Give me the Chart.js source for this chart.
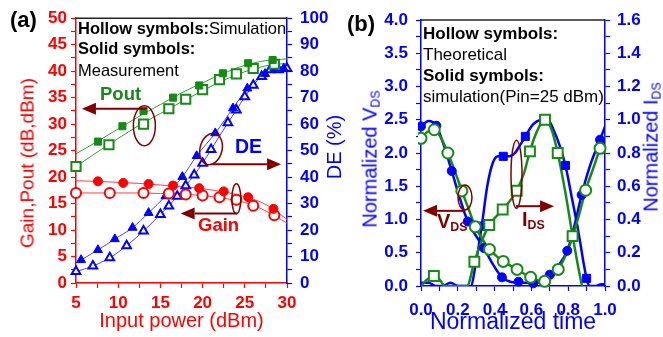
<!DOCTYPE html>
<html>
<head>
<meta charset="utf-8">
<script src="https://cdn.jsdelivr.net/npm/chart.js@4.4.0/dist/chart.umd.min.js"></script>
<style>
body { margin:0; background:#fff; width:663px; height:337px; overflow:hidden; position:relative;
  font-family:"Liberation Sans", Arial, sans-serif; }
canvas { position:absolute; top:0; }
.t { position:absolute; white-space:nowrap; line-height:1; }
.r { transform:translate(-50%,-50%) rotate(-90deg); }
.t sub { font-size:0.62em; vertical-align:-0.28em; line-height:1; }
</style>
</head>
<body>
<canvas id="ca" width="350" height="337" style="left:0"></canvas>
<canvas id="cb" width="328" height="337" style="left:335px"></canvas>

<div class="t" style="left:10px;top:9px;font-size:22px;font-weight:bold">(a)</div>
<div class="t" style="left:347px;top:13px;font-size:22px;font-weight:bold">(b)</div>

<div class="t" style="left:78px;top:20px;font-size:16.5px"><b>Hollow symbols:</b>Simulation</div>
<div class="t" style="left:78px;top:40px;font-size:16.5px"><b>Solid symbols:</b></div>
<div class="t" style="left:78px;top:61.5px;font-size:16.5px">Measurement</div>

<div class="t" style="left:423px;top:25px;font-size:17px"><b>Hollow symbols:</b></div>
<div class="t" style="left:423px;top:45.5px;font-size:17px">Theoretical</div>
<div class="t" style="left:423px;top:66.5px;font-size:17px"><b>Solid symbols:</b></div>
<div class="t" style="left:423px;top:88px;font-size:17px">simulation(Pin=25 dBm)</div>

<div class="t" style="left:100px;top:85px;font-size:18.5px;font-weight:bold;color:#168a16">Pout</div>
<div class="t" style="left:235px;top:137px;font-size:19.5px;font-weight:bold;color:#0000ff">DE</div>
<div class="t" style="left:198px;top:216px;font-size:18.5px;font-weight:bold;color:#ff0000">Gain</div>
<div class="t" style="left:437px;top:211px;font-size:20px;font-weight:bold;color:#800000">V<sub>DS</sub></div>
<div class="t" style="left:522px;top:209px;font-size:20px;font-weight:bold;color:#800000">I<sub>DS</sub></div>

<div class="t r" style="left:27px;top:163px;font-size:19px;color:#ff0000">Gain,Pout (dB,dBm)</div>
<div class="t r" style="left:334px;top:147px;font-size:20px;color:#0000ff">DE (%)</div>
<div class="t r" style="left:371px;top:159px;font-size:20px;color:#0000ff">Normalized V<sub>DS</sub></div>
<div class="t r" style="left:652px;top:147px;font-size:20px;color:#0000ff">Normalized I<sub>DS</sub></div>

<script>
// ---- panel (a): input power sweep ----
const pinPoutMeas = [7.6, 10.5, 13.0, 16.5, 19.6, 22.4, 25.4, 28.3];
const poutMeas    = [26.7, 29.6, 32.5, 35.0, 37.3, 39.6, 41.5, 42.1];
const pinPoutSim  = [5, 8.9, 13, 16, 18, 20, 22, 24, 26, 28.5];
const poutSim     = [22.0, 26.1, 30.0, 32.9, 34.7, 36.5, 38.4, 39.5, 40.5, 41.3];

const pinGainMeas = [7.6, 10.6, 13.6, 16.5, 19.6, 22.5, 25.4, 28.4];
const gainMeas    = [19.2, 18.9, 18.7, 18.4, 17.9, 17.3, 16.2, 14.0];
const pinGainSim  = [5, 9, 13, 16, 18, 20, 22, 24, 26, 28.5];
const gainSim     = [17.0, 17.0, 17.0, 16.9, 16.7, 16.5, 16.2, 15.7, 14.6, 12.8];

const pinDeMeas = [5.6, 7.6, 9.6, 11.7, 13.6, 15.6, 17.6, 19.3, 21.5, 23.6, 25.3, 27.4, 28.5, 29.6];
const deMeas    = [8.7, 12.5, 16.6, 20.9, 26.5, 32.8, 40.1, 48.0, 56.6, 66.0, 73.5, 79.0, 81.0, 81.0];
const pinDeSim  = [5, 7, 9, 11, 13, 15, 16, 17, 18, 19, 20, 21, 23, 24, 25, 26, 27, 28, 29, 30];
const deSim     = [4.3, 6.4, 9.5, 14.1, 19.6, 25.9, 29.1, 32.8, 36.7, 40.8, 45.2, 50.4, 60.5, 65.3, 70.3, 74.7, 78.0, 80.5, 80.5, 81.0];

// fitted curves
const pinFit      = [5, 7.5, 10, 12.5, 15, 17.5, 20, 22.5, 25, 27.5, 30];
const poutMeasFit = [24.4, 26.7, 29.1, 31.5, 33.7, 35.9, 37.8, 39.6, 41.1, 42.0, 42.3];
const poutSimFit  = [22.0, 24.7, 27.3, 29.8, 32.0, 34.2, 36.3, 38.3, 39.9, 41.0, 41.5];
const gainMeasFit = [19.3, 19.2, 19.0, 18.8, 18.5, 18.2, 17.8, 17.2, 16.3, 14.8, 12.0];
const gainSimFit  = [17.0, 17.0, 17.0, 17.0, 16.9, 16.8, 16.5, 16.0, 15.2, 13.6, 11.3];

// ---- panel (b): normalized waveforms ----
const tVdsSim = [0.0, 0.083, 0.167, 0.254, 0.342, 0.44, 0.53, 0.61, 0.70, 0.795, 0.873, 0.973];
const vdsSim  = [2.40, 2.41, 1.73, 0.97, 0.57, 0.13, 0.065, 0.04, 0.17, 0.53, 1.37, 2.20];
const tIdsSim = [0.33, 0.447, 0.567, 0.785, 0.90];
const idsSim  = [0.36, 0.78, 0.90, 0.725, 0.046];
const tVdsTh  = [0.0, 0.072, 0.146, 0.222, 0.295, 0.372, 0.447, 0.522, 0.596, 0.672, 0.746, 0.895, 0.973];
const vdsTh   = [2.22, 2.35, 2.0, 1.43, 0.89, 0.55, 0.37, 0.25, 0.13, 0.07, 0.25, 1.44, 2.07];
const tIdsTh  = [0.07, 0.29, 0.371, 0.444, 0.52, 0.592, 0.674, 0.743, 0.824];
const idsTh   = [0.06, 0.146, 0.367, 0.46, 0.573, 0.81, 1.0, 0.80, 0.30];

const tVdsSimLine = [0, 0.04, 0.083, 0.12, 0.167, 0.21, 0.254, 0.3, 0.342, 0.39, 0.44, 0.49, 0.53, 0.57, 0.61, 0.65, 0.70, 0.75, 0.795, 0.835, 0.873, 0.92, 0.973, 1.0];
const vdsSimLine  = [2.40, 2.48, 2.41, 2.15, 1.73, 1.33, 0.97, 0.75, 0.57, 0.33, 0.13, 0.06, 0.05, 0.05, 0.04, 0.07, 0.17, 0.32, 0.53, 0.92, 1.37, 1.82, 2.20, 2.40];
const tVdsThLine  = [0, 0.035, 0.072, 0.11, 0.146, 0.185, 0.222, 0.26, 0.295, 0.335, 0.372, 0.41, 0.447, 0.522, 0.596, 0.672, 0.71, 0.746, 0.785, 0.824, 0.86, 0.895, 0.935, 0.973, 1.0];
const vdsThLine   = [2.22, 2.32, 2.35, 2.22, 2.0, 1.72, 1.43, 1.15, 0.89, 0.70, 0.55, 0.45, 0.37, 0.25, 0.13, 0.07, 0.13, 0.25, 0.45, 0.74, 1.08, 1.44, 1.76, 2.07, 2.25];
const tIdsSimLine = [0, 0.04, 0.08, 0.12, 0.16, 0.2, 0.24, 0.27, 0.30, 0.33, 0.36, 0.39, 0.42, 0.447, 0.48, 0.51, 0.54, 0.567, 0.6, 0.63, 0.66, 0.69, 0.72, 0.755, 0.785, 0.82, 0.855, 0.885, 0.90, 0.915, 0.95, 0.98, 1.0];
const idsSimLine  = [0.02, 0.02, 0.0, 0.0, 0.02, 0.0, 0.0, 0.0, 0.15, 0.36, 0.60, 0.74, 0.78, 0.78, 0.78, 0.80, 0.85, 0.90, 0.96, 0.99, 1.0, 1.0, 0.94, 0.84, 0.725, 0.53, 0.33, 0.13, 0.046, 0.0, 0.0, 0.01, 0.01];
const tIdsThLine  = [0, 0.035, 0.07, 0.1, 0.13, 0.2, 0.25, 0.29, 0.33, 0.371, 0.444, 0.52, 0.56, 0.592, 0.63, 0.674, 0.71, 0.743, 0.785, 0.824, 0.85, 0.875];
const idsThLine   = [0.0, 0.04, 0.06, 0.04, 0.0, 0.0, 0.0, 0.146, 0.27, 0.367, 0.46, 0.573, 0.68, 0.81, 0.93, 1.0, 0.94, 0.80, 0.56, 0.30, 0.14, 0.0];

const FONT = "'Liberation Sans', Arial, sans-serif";
Chart.defaults.font.family = FONT;

const RED = '#ff0000', BLUE = '#0000ff', GREEN = '#168a16', DARKRED = '#800000';

function pts(xs, ys) { return xs.map((x, i) => ({x: x, y: ys[i]})); }

function markers(xs, ys, style, r, color, hollow, axis) {
  return {
    data: pts(xs, ys), showLine: false, yAxisID: axis || 'y', order: 1, clip: false,
    pointStyle: style, pointRadius: r, pointHoverRadius: r,
    pointBackgroundColor: hollow ? '#fff' : color, pointBorderColor: color,
    pointBorderWidth: hollow ? 2 : 1
  };
}
function curve(xs, ys, color, w, axis) {
  return {
    data: pts(xs, ys), yAxisID: axis || 'y', order: 5, pointRadius: 0,
    borderColor: color, borderWidth: w, cubicInterpolationMode: 'monotone', fill: false
  };
}

// frame top line + ellipses and arrows
const decor = {
  id: 'decor',
  afterDatasetsDraw(chart, args, opts) {
    const ctx = chart.ctx, a = chart.chartArea;
    const xs = chart.scales.x, ys = chart.scales.y;
    ctx.save();
    ctx.strokeStyle = '#222'; ctx.lineWidth = 1.5;
    ctx.beginPath(); ctx.moveTo(a.left, a.top); ctx.lineTo(a.right, a.top); ctx.stroke();
    ctx.strokeStyle = DARKRED; ctx.fillStyle = DARKRED;
    (opts.ellipses || []).forEach(e => {
      ctx.lineWidth = 1.5;
      ctx.beginPath();
      ctx.ellipse(xs.getPixelForValue(e.x), ys.getPixelForValue(e.y), e.rx, e.ry, e.rot || 0, 0, Math.PI * 2);
      ctx.stroke();
    });
    (opts.arrows || []).forEach(ar => {
      const x0 = xs.getPixelForValue(ar.x0), x1 = xs.getPixelForValue(ar.x1), y = ys.getPixelForValue(ar.y);
      const dir = x1 > x0 ? 1 : -1, head = 14;
      ctx.lineWidth = 2;
      ctx.beginPath(); ctx.moveTo(x0, y); ctx.lineTo(x1 - dir * head, y); ctx.stroke();
      ctx.beginPath(); ctx.moveTo(x1, y); ctx.lineTo(x1 - dir * head, y - 6); ctx.lineTo(x1 - dir * head, y + 6);
      ctx.closePath(); ctx.fill();
    });
    ctx.restore();
  }
};

function axis(color, opts) {
  return Object.assign({
    type: 'linear',
    border: { color: color, width: 1.5 },
    grid: { drawOnChartArea: false, color: color, tickLength: 5, tickWidth: 1.2 },
  }, opts);
}
function tickFont(color, pad, cb) {
  return { color: color, font: { size: 17, weight: 'bold' }, padding: pad, autoSkip: false,
           maxRotation: 0, maxTicksLimit: 100, callback: cb };
}

new Chart(document.getElementById('ca'), {
  type: 'line',
  data: { datasets: [
    markers(pinPoutMeas, poutMeas, 'rect', 5, GREEN, false),
    markers(pinPoutSim, poutSim, 'rect', 6.5, GREEN, true),
    markers(pinGainMeas, gainMeas, 'circle', 4.5, RED, false),
    markers(pinGainSim, gainSim, 'circle', 5, RED, true),
    markers(pinDeMeas, deMeas, 'triangle', 5.2, BLUE, false, 'y1'),
    markers(pinDeSim, deSim, 'triangle', 5, BLUE, true, 'y1'),
    curve(pinFit, poutMeasFit, '#2ea02e', 1),
    curve(pinFit, poutSimFit, '#2ea02e', 1),
    curve(pinFit, gainMeasFit, '#ff4040', 1),
    curve(pinFit, gainSimFit, '#ff4040', 1),
    curve(pinDeMeas, deMeas, '#4040ff', 1, 'y1'),
    curve(pinDeSim, deSim, '#4040ff', 1, 'y1')
  ]},
  options: {
    responsive: false, animation: false, events: [],
    layout: { padding: { top: 17, left: 0, right: 0, bottom: 0 } },
    plugins: {
      legend: { display: false }, tooltip: { enabled: false },
      decor: {
        ellipses: [ {x: 13.1, y: 29.7, rx: 11, ry: 20}, {x: 21.0, y: 25.3, rx: 11, ry: 16, rot: 0.25},
                    {x: 24.0, y: 15.9, rx: 4.5, ry: 15} ],
        arrows: [ {x0: 13.4, x1: 5.7, y: 32.9}, {x0: 21.2, x1: 29.3, y: 22.4}, {x0: 24.1, x1: 17.4, y: 13.1} ]
      }
    },
    scales: {
      x: axis(RED, { position: 'bottom', min: 5, max: 30,
        ticks: Object.assign(tickFont(RED, 5, v => v % 5 === 0 ? v : ''), { stepSize: 2.5 }),
        title: { display: true, text: 'Input power (dBm)', color: RED, font: { size: 20 }, padding: { top: 0, bottom: 4 } },
        afterFit(s) { s.height = 54; } }),
      y: axis(RED, { position: 'left', min: 0, max: 50,
        ticks: Object.assign(tickFont(RED, 4, v => v % 5 === 0 ? v : ''), { stepSize: 2.5 }),
        afterFit(s) { s.width = 76; } }),
      y1: axis(BLUE, { position: 'right', min: 0, max: 100,
        ticks: Object.assign(tickFont(BLUE, 8, v => v % 10 === 0 ? v : ''), { stepSize: 5 }),
        afterFit(s) { s.width = 63; } })
    }
  },
  plugins: [decor]
});

new Chart(document.getElementById('cb'), {
  type: 'line',
  data: { datasets: [
    markers(tVdsTh, vdsTh, 'circle', 5.5, GREEN, true),
    markers(tIdsTh, idsTh, 'rect', 7, GREEN, true, 'y1'),
    markers(tVdsSim, vdsSim, 'circle', 4.5, BLUE, false),
    markers(tIdsSim, idsSim, 'rect', 5.7, BLUE, false, 'y1'),
    curve(tVdsThLine, vdsThLine, GREEN, 2.5),
    curve(tIdsThLine, idsThLine, GREEN, 2.5, 'y1'),
    curve(tVdsSimLine, vdsSimLine, BLUE, 2.5),
    curve(tIdsSimLine, idsSimLine, BLUE, 2.5, 'y1')
  ].map((d, i) => { d.order = i; d.clip = d.showLine === false ? 3 : undefined; return d; }) },
  options: {
    responsive: false, animation: false, events: [],
    layout: { padding: { top: 20, left: 0, right: 0, bottom: 0 } },
    plugins: {
      legend: { display: false }, tooltip: { enabled: false },
      decor: {
        ellipses: [ {x: 0.239, y: 1.33, rx: 7, ry: 12.5}, {x: 0.519, y: 1.68, rx: 5.5, ry: 34} ],
        arrows: [ {x0: 0.239, x1: 0.011, y: 1.13}, {x0: 0.516, x1: 0.723, y: 1.20} ]
      }
    },
    scales: {
      x: axis(BLUE, { position: 'bottom', min: 0, max: 1,
        ticks: Object.assign(tickFont(BLUE, 9, v => { const k = Math.round(v * 10); return k % 2 === 0 ? (k / 10).toFixed(1) : ''; }), { stepSize: 0.1 }),
        title: { display: true, text: 'Normalized time', color: BLUE, font: { size: 23 }, padding: { top: 0, bottom: 1 } },
        afterFit(s) { s.height = 51; } }),
      y: axis(BLUE, { position: 'left', min: 0, max: 4,
        ticks: Object.assign(tickFont(BLUE, 8, v => { const k = Math.round(v * 4); return k % 2 === 0 ? (k / 4).toFixed(1) : ''; }), { stepSize: 0.25 }),
        afterFit(s) { s.width = 86; } }),
      y1: axis(BLUE, { position: 'right', min: 0, max: 1.6,
        ticks: Object.assign(tickFont(BLUE, 7, v => { const k = Math.round(v * 10); return k % 2 === 0 ? (k / 10).toFixed(1) : ''; }), { stepSize: 0.1 }),
        afterFit(s) { s.width = 58; } })
    }
  },
  plugins: [decor]
});
</script>
</body>
</html>
